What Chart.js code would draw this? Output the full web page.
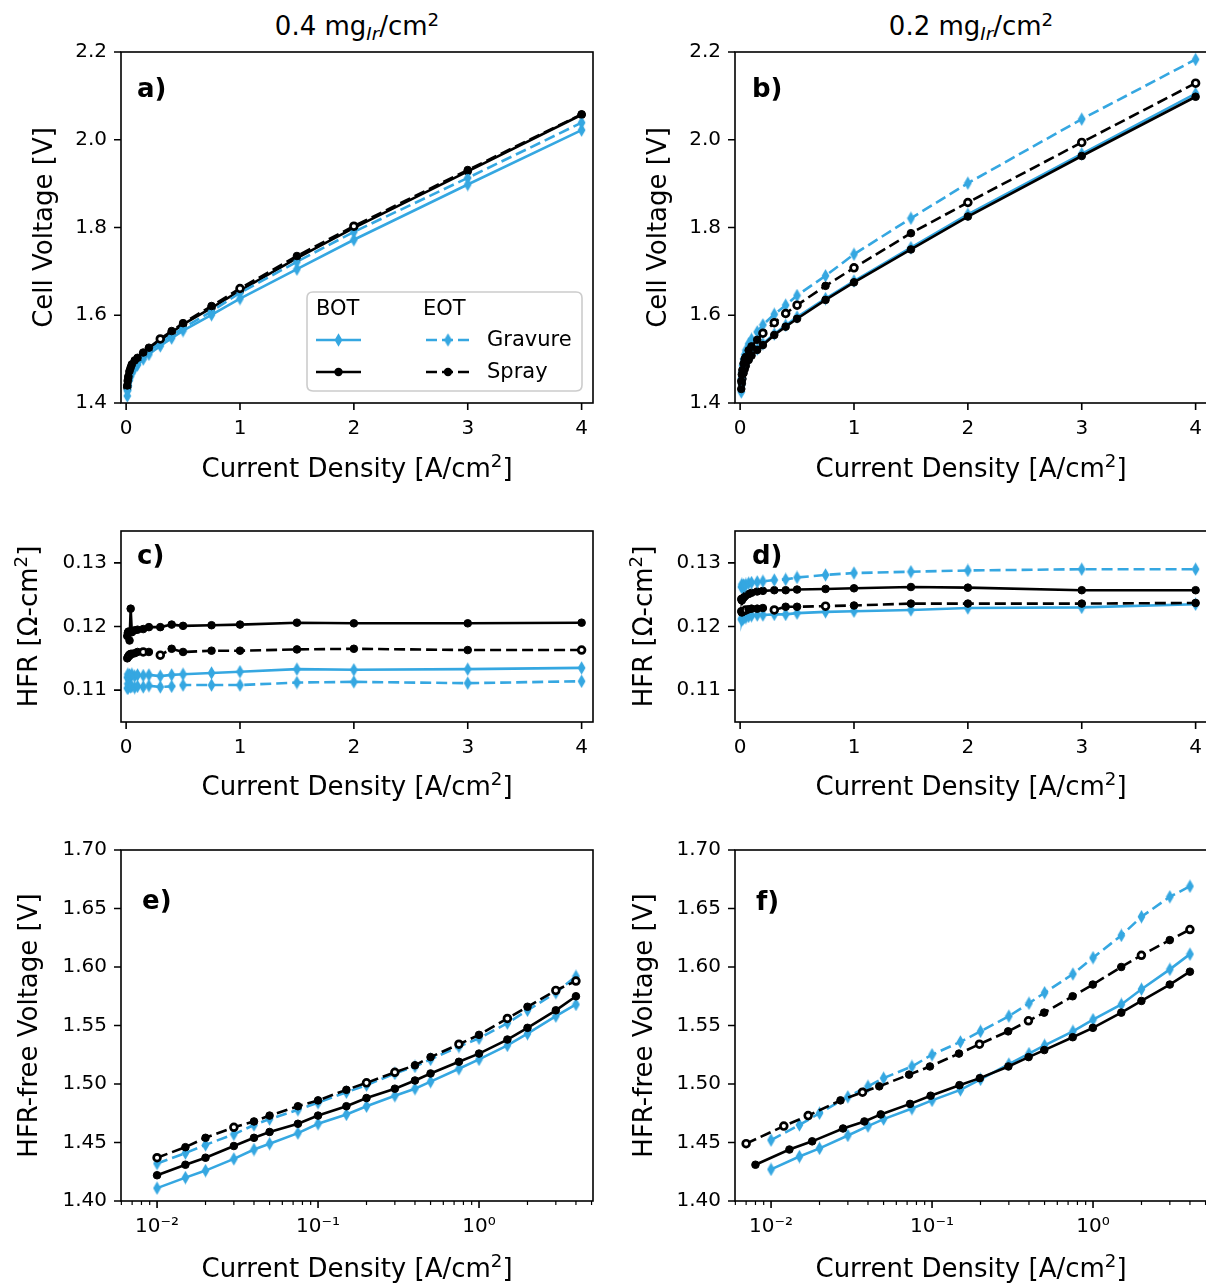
<!DOCTYPE html>
<html><head><meta charset="utf-8"><title>Polarization curves</title>
<script src="https://cdn.jsdelivr.net/npm/chart.js@4.4.1/dist/chart.umd.min.js"></script>
<style>
html,body{margin:0;padding:0;background:#fff;}
body{width:1206px;height:1283px;overflow:hidden;position:relative;font-family:"DejaVu Sans",sans-serif;}
canvas{position:absolute;}
.ttl{position:absolute;top:11px;text-align:center;font-size:26px;line-height:30px;color:#000;white-space:nowrap;}
.ttl .sb{font-size:0.7em;font-style:italic;position:relative;top:0.28em;}
.ttl .sp{font-size:0.7em;position:relative;top:-0.5em;}
</style></head>
<body>
<div class="ttl" style="left:121px;width:472px">0.4 mg<span class="sb">Ir</span>/cm<span class="sp">2</span></div>
<div class="ttl" style="left:735px;width:472px">0.2 mg<span class="sb">Ir</span>/cm<span class="sp">2</span></div>
<script>
const FONT = 'DejaVu Sans';
const BLUE = '#35a7e1';

// ---------- categories / ticks ----------
const seriesNames = ['Gravure', 'Spray'];
const phaseNames = ['BOT', 'EOT'];
const xTitle = 'Current Density [A/cm^2]';
const yTitleVoltage = 'Cell Voltage [V]';
const yTitleHfr = 'HFR [Ω-cm^2]';
const yTitleHfrFree = 'HFR-free Voltage [V]';
const panelLabels = ['a)', 'b)', 'c)', 'd)', 'e)', 'f)'];
const linearXTicks = [0, 1, 2, 3, 4];
const logXTicks = [0.01, 0.1, 1];
const voltageTicks = [1.4, 1.6, 1.8, 2.0, 2.2];
const hfrTicks = [0.11, 0.12, 0.13];
const hfrFreeTicks = [1.40, 1.45, 1.50, 1.55, 1.60, 1.65, 1.70];

// ---------- data ----------
const currentDensity = [0.01, 0.015, 0.02, 0.03, 0.04, 0.05, 0.075, 0.1, 0.15, 0.2, 0.3, 0.4, 0.5, 0.75, 1, 1.5, 2, 3, 4];
const currentDensitySprayBotF = [0.008, 0.013, 0.018, 0.028, 0.038, 0.048, 0.073, 0.098, 0.148, 0.198, 0.298, 0.398, 0.498, 0.748, 0.998, 1.498, 1.998, 2.998, 3.998];
const currentDensitySprayEotF = [0.007, 0.012, 0.017, 0.027, 0.037, 0.047, 0.072, 0.097, 0.147, 0.197, 0.297, 0.397, 0.497, 0.747, 0.997, 1.497, 1.997, 2.997, 3.997];

// a) cell voltage, 0.4 mg
const aGravureBot = [1.416, 1.430, 1.439, 1.452, 1.461, 1.468, 1.479, 1.487, 1.500, 1.511, 1.530, 1.548, 1.565, 1.601, 1.638, 1.705, 1.772, 1.898, 2.022];
const aSprayBot   = [1.436, 1.449, 1.458, 1.470, 1.478, 1.485, 1.494, 1.500, 1.512, 1.523, 1.543, 1.561, 1.579, 1.617, 1.656, 1.730, 1.799, 1.928, 2.057];
const aGravureEot = [1.428, 1.441, 1.450, 1.462, 1.470, 1.477, 1.487, 1.494, 1.507, 1.518, 1.537, 1.554, 1.571, 1.609, 1.651, 1.722, 1.790, 1.913, 2.039];
const aSprayEot   = [1.440, 1.452, 1.461, 1.473, 1.481, 1.488, 1.497, 1.503, 1.515, 1.526, 1.546, 1.564, 1.582, 1.621, 1.661, 1.735, 1.803, 1.931, 2.058];

// b) cell voltage, 0.2 mg
const bGravureBot = [1.425, 1.442, 1.455, 1.470, 1.480, 1.490, 1.500, 1.510, 1.523, 1.535, 1.557, 1.577, 1.596, 1.638, 1.678, 1.754, 1.830, 1.968, 2.105];
const bSprayBot   = [1.432, 1.445, 1.455, 1.468, 1.477, 1.485, 1.498, 1.508, 1.521, 1.532, 1.555, 1.574, 1.592, 1.635, 1.675, 1.750, 1.825, 1.963, 2.098];
const bGravureEot = [1.455, 1.470, 1.485, 1.500, 1.510, 1.520, 1.535, 1.545, 1.562, 1.578, 1.602, 1.623, 1.645, 1.690, 1.739, 1.821, 1.901, 2.047, 2.183];
const bSprayEot   = [1.450, 1.465, 1.475, 1.490, 1.500, 1.505, 1.520, 1.529, 1.544, 1.559, 1.583, 1.604, 1.623, 1.667, 1.708, 1.787, 1.857, 1.994, 2.129];

// c) HFR, 0.4 mg
const cGravureBot = [0.1120, 0.1125, 0.1118, 0.1124, 0.1121, 0.1125, 0.1122, 0.1124, 0.1123, 0.1124, 0.1122, 0.1124, 0.1125, 0.1127, 0.1129, 0.1133, 0.1132, 0.1133, 0.1135];
const cSprayBot   = [0.1185, 0.1190, 0.1192, 0.1178, 0.1228, 0.1191, 0.1194, 0.1195, 0.1196, 0.1199, 0.1199, 0.1203, 0.1201, 0.1202, 0.1203, 0.1206, 0.1205, 0.1205, 0.1206];
const cGravureEot = [0.1103, 0.1110, 0.1104, 0.1108, 0.1105, 0.1106, 0.1104, 0.1106, 0.1105, 0.1107, 0.1105, 0.1106, 0.1108, 0.1108, 0.1108, 0.1112, 0.1113, 0.1111, 0.1114];
const cSprayEot   = [0.1150, 0.1152, 0.1153, 0.1155, 0.1157, 0.1157, 0.1158, 0.1160, 0.1160, 0.1160, 0.1155, 0.1165, 0.1160, 0.1162, 0.1162, 0.1164, 0.1165, 0.1163, 0.1163];

// d) HFR, 0.2 mg
const dGravureBot = [0.1212, 0.1210, 0.1214, 0.1213, 0.1215, 0.1214, 0.1216, 0.1217, 0.1218, 0.1218, 0.1219, 0.1219, 0.1221, 0.1223, 0.1224, 0.1226, 0.1229, 0.1230, 0.1235];
const dSprayBot   = [0.1243, 0.1241, 0.1244, 0.1245, 0.1247, 0.1249, 0.1251, 0.1253, 0.1255, 0.1256, 0.1257, 0.1257, 0.1258, 0.1259, 0.1260, 0.1262, 0.1261, 0.1257, 0.1257];
const dGravureEot = [0.1262, 0.1266, 0.1262, 0.1265, 0.1263, 0.1266, 0.1268, 0.1269, 0.1270, 0.1271, 0.1273, 0.1274, 0.1277, 0.1281, 0.1284, 0.1286, 0.1288, 0.1290, 0.1290];
const dSprayEot   = [0.1224, 0.1222, 0.1223, 0.1224, 0.1225, 0.1226, 0.1227, 0.1228, 0.1228, 0.1229, 0.1226, 0.1231, 0.1231, 0.1232, 0.1233, 0.1236, 0.1236, 0.1236, 0.1237];

// e) HFR-free voltage, 0.4 mg
const eGravureBot = [1.411, 1.420, 1.426, 1.436, 1.444, 1.449, 1.458, 1.466, 1.474, 1.481, 1.490, 1.496, 1.502, 1.513, 1.521, 1.533, 1.543, 1.558, 1.568];
const eSprayBot   = [1.422, 1.431, 1.437, 1.447, 1.454, 1.459, 1.466, 1.473, 1.481, 1.488, 1.496, 1.503, 1.509, 1.519, 1.526, 1.538, 1.548, 1.563, 1.575];
const eGravureEot = [1.432, 1.441, 1.448, 1.457, 1.465, 1.470, 1.478, 1.484, 1.493, 1.499, 1.509, 1.515, 1.521, 1.532, 1.539, 1.552, 1.563, 1.578, 1.592];
const eSprayEot   = [1.437, 1.446, 1.454, 1.463, 1.468, 1.473, 1.481, 1.486, 1.495, 1.501, 1.510, 1.516, 1.523, 1.534, 1.542, 1.556, 1.566, 1.580, 1.588];

// f) HFR-free voltage, 0.2 mg
const fGravureBot = [1.427, 1.438, 1.445, 1.456, 1.464, 1.470, 1.479, 1.486, 1.495, 1.504, 1.517, 1.526, 1.533, 1.545, 1.555, 1.568, 1.581, 1.598, 1.611];
const fSprayBot   = [1.431, 1.444, 1.451, 1.462, 1.468, 1.474, 1.483, 1.490, 1.499, 1.505, 1.515, 1.523, 1.529, 1.540, 1.548, 1.561, 1.571, 1.585, 1.596];
const fGravureEot = [1.452, 1.465, 1.475, 1.489, 1.498, 1.505, 1.515, 1.525, 1.536, 1.545, 1.558, 1.569, 1.578, 1.594, 1.608, 1.627, 1.643, 1.660, 1.669];
const fSprayEot   = [1.449, 1.464, 1.473, 1.486, 1.493, 1.498, 1.508, 1.515, 1.526, 1.534, 1.545, 1.554, 1.561, 1.575, 1.585, 1.600, 1.610, 1.623, 1.632];

// hollow (open) spray-EOT marker indices per panel (style only)
const hollowA = [10, 14, 16];
const hollowB = [9, 10, 11, 12, 14, 16, 17, 18];
const hollowC = [3, 8, 10, 18];
const hollowD = [5, 10, 13];
const hollowE = [0, 3, 9, 10, 13, 15, 17, 18];
const hollowF = [0, 1, 2, 4, 9, 11, 16, 18];

// ---------- style helpers ----------
function makeDiamond(color) {
  const c = document.createElement('canvas');
  c.width = 9; c.height = 14;
  const g = c.getContext('2d');
  g.fillStyle = color;
  g.beginPath();
  g.moveTo(4.5, 0.3); g.lineTo(8.4, 7); g.lineTo(4.5, 13.7); g.lineTo(0.6, 7);
  g.closePath(); g.fill();
  return c;
}
const diamondImg = makeDiamond(BLUE);
const DASH = [11, 5];

function makeDataset(s) {
  const blue = s.kind === 'gravure';
  const dashed = s.phase === 'EOT';
  const hollow = s.hollow || [];
  const order = blue ? (dashed ? 2 : 4) : (dashed ? 1 : 3);
  return {
    data: s.xs.map((x, i) => ({ x: x, y: s.ys[i] })),
    showLine: true,
    borderColor: blue ? BLUE : '#000',
    borderWidth: 2.6,
    borderDash: dashed ? DASH : [],
    pointStyle: blue ? diamondImg : 'circle',
    pointRadius: blue ? 5 : s.ys.map((_, i) => hollow.includes(i) ? 3.4 : 3.8),
    pointBorderColor: blue ? BLUE : '#000',
    pointBorderWidth: blue ? 0 : s.ys.map((_, i) => hollow.includes(i) ? 2.7 : 1),
    pointBackgroundColor: blue ? BLUE : s.ys.map((_, i) => hollow.includes(i) ? '#fff' : '#000'),
    tension: 0,
    fill: false,
    order: order
  };
}

const supMap = { '-': '⁻', '0': '⁰', '1': '¹', '2': '²', '3': '³', '4': '⁴', '5': '⁵', '6': '⁶', '7': '⁷', '8': '⁸', '9': '⁹' };
function fmtLog(v) {
  const e = Math.round(Math.log10(v));
  return '10' + String(e).split('').map(c => supMap[c]).join('');
}

// rich text: "^x" becomes a raised smaller character (mathtext-like)
function parseRich(str) {
  const parts = [];
  const re = /\^(\w)/g;
  let last = 0, m;
  while ((m = re.exec(str)) !== null) {
    if (m.index > last) parts.push({ t: str.slice(last, m.index), sup: false });
    parts.push({ t: m[1], sup: true });
    last = m.index + m[0].length;
  }
  if (last < str.length) parts.push({ t: str.slice(last), sup: false });
  return parts;
}
function drawRich(ctx, str, size) {
  // draws centred at (0,0) horizontally, baseline at 0
  const parts = parseRich(str);
  const fN = size + 'px "' + FONT + '"';
  const fS = (size * 0.7) + 'px "' + FONT + '"';
  let total = 0;
  parts.forEach(p => { ctx.font = p.sup ? fS : fN; p.w = ctx.measureText(p.t).width; total += p.w; });
  let x = -total / 2;
  ctx.textAlign = 'left'; ctx.textBaseline = 'alphabetic';
  parts.forEach(p => {
    ctx.font = p.sup ? fS : fN;
    ctx.fillText(p.t, x, p.sup ? -size * 0.37 : 0);
    x += p.w;
  });
}

function drawSample(ctx, x0, x1, y, kind, dashed) {
  ctx.save();
  ctx.strokeStyle = kind === 'gravure' ? BLUE : '#000';
  ctx.lineWidth = 2.6;
  ctx.setLineDash(dashed ? DASH : []);
  ctx.beginPath(); ctx.moveTo(x0, y); ctx.lineTo(x1, y); ctx.stroke();
  ctx.setLineDash([]);
  const xm = (x0 + x1) / 2;
  if (kind === 'gravure') {
    ctx.drawImage(diamondImg, xm - diamondImg.width / 2, y - diamondImg.height / 2);
  } else {
    ctx.fillStyle = '#000';
    ctx.beginPath(); ctx.arc(xm, y, 4.2, 0, Math.PI * 2); ctx.fill();
  }
  ctx.restore();
}

function drawLegend(ctx) {
  ctx.save();
  const x = 307, y = 292, w = 275, h = 99, r = 6;
  ctx.beginPath();
  ctx.moveTo(x + r, y); ctx.lineTo(x + w - r, y); ctx.quadraticCurveTo(x + w, y, x + w, y + r);
  ctx.lineTo(x + w, y + h - r); ctx.quadraticCurveTo(x + w, y + h, x + w - r, y + h);
  ctx.lineTo(x + r, y + h); ctx.quadraticCurveTo(x, y + h, x, y + h - r);
  ctx.lineTo(x, y + r); ctx.quadraticCurveTo(x, y, x + r, y); ctx.closePath();
  ctx.fillStyle = 'rgba(255,255,255,0.8)'; ctx.fill();
  ctx.strokeStyle = '#cccccc'; ctx.lineWidth = 1.6; ctx.stroke();
  ctx.fillStyle = '#000';
  ctx.font = '21px "' + FONT + '"';
  ctx.textBaseline = 'middle'; ctx.textAlign = 'left';
  ctx.fillText(phaseNames[0], 316, 310);
  ctx.fillText(phaseNames[1], 423, 310);
  ctx.fillText(seriesNames[0], 487, 341);
  ctx.fillText(seriesNames[1], 487, 373);
  drawSample(ctx, 316, 361, 340, 'gravure', false);
  drawSample(ctx, 426, 470, 340, 'gravure', true);
  drawSample(ctx, 316, 361, 372, 'spray', false);
  drawSample(ctx, 426, 470, 372, 'spray', true);
  ctx.restore();
}

function framePlugin(p) {
  return {
    id: 'mplFrame',
    afterDraw(chart) {
      const ctx = chart.ctx, a = chart.chartArea, sx = chart.scales.x, sy = chart.scales.y;
      ctx.save();
      ctx.strokeStyle = '#000';
      ctx.lineWidth = 1.6;
      ctx.strokeRect(a.left, a.top, a.right - a.left, a.bottom - a.top);
      ctx.beginPath();
      p.yTicks.forEach(v => { const y = sy.getPixelForValue(v); ctx.moveTo(a.left - 7, y); ctx.lineTo(a.left, y); });
      const xt = p.log ? logXTicks : linearXTicks;
      xt.forEach(v => { const x = sx.getPixelForValue(v); ctx.moveTo(x, a.bottom); ctx.lineTo(x, a.bottom + 7); });
      ctx.stroke();
      if (p.log) {
        ctx.lineWidth = 1.2;
        ctx.beginPath();
        for (let k = -3; k <= 1; k++) {
          for (let m = 2; m <= 9; m++) {
            const v = m * Math.pow(10, k);
            if (v < sx.min || v > sx.max) continue;
            const x = sx.getPixelForValue(v);
            ctx.moveTo(x, a.bottom); ctx.lineTo(x, a.bottom + 4);
          }
        }
        ctx.stroke();
      }
      ctx.fillStyle = '#000';
      // axis titles
      ctx.save();
      ctx.translate((a.left + a.right) / 2, p.xTitleY - p.canvas.y + 9);
      drawRich(ctx, xTitle, 26);
      ctx.restore();
      ctx.save();
      ctx.translate(p.yTitleX + 9, (a.top + a.bottom) / 2);
      ctx.rotate(-Math.PI / 2);
      drawRich(ctx, p.yTitle, 26);
      ctx.restore();
      // panel label
      ctx.font = 'bold 26px "' + FONT + '"';
      ctx.textBaseline = 'alphabetic'; ctx.textAlign = 'left';
      ctx.fillText(p.label, a.left + p.labelDx, a.top + p.labelDy);
      if (p.legend) drawLegend(ctx);
      ctx.restore();
    }
  };
}

const LIN_MIN = -0.045, LIN_MAX = 4.1;
const LOG_MIN = Math.pow(10, -2.224), LOG_MAX = Math.pow(10, 0.708);

const panels = [
  { label: panelLabels[0], canvas: { x: 0, y: 0, w: 614, h: 495 }, frame: { l: 121, t: 52, r: 593, b: 403 }, log: false,
    yMin: 1.4, yMax: 2.2, yTicks: voltageTicks, yDec: 1, yTitle: yTitleVoltage, yTitleX: 43, xTitleY: 468, labelDx: 16, labelDy: 45, legend: true,
    series: [
      { xs: currentDensity, ys: aGravureBot, kind: 'gravure', phase: 'BOT' },
      { xs: currentDensity, ys: aSprayBot, kind: 'spray', phase: 'BOT' },
      { xs: currentDensity, ys: aGravureEot, kind: 'gravure', phase: 'EOT' },
      { xs: currentDensity, ys: aSprayEot, kind: 'spray', phase: 'EOT', hollow: hollowA } ] },
  { label: panelLabels[1], canvas: { x: 614, y: 0, w: 620, h: 495 }, frame: { l: 735, t: 52, r: 1207, b: 403 }, log: false,
    yMin: 1.4, yMax: 2.2, yTicks: voltageTicks, yDec: 1, yTitle: yTitleVoltage, yTitleX: 43, xTitleY: 468, labelDx: 17, labelDy: 45,
    series: [
      { xs: currentDensity, ys: bGravureBot, kind: 'gravure', phase: 'BOT' },
      { xs: currentDensity, ys: bSprayBot, kind: 'spray', phase: 'BOT' },
      { xs: currentDensity, ys: bGravureEot, kind: 'gravure', phase: 'EOT' },
      { xs: currentDensity, ys: bSprayEot, kind: 'spray', phase: 'EOT', hollow: hollowB } ] },
  { label: panelLabels[2], canvas: { x: 0, y: 495, w: 614, h: 320 }, frame: { l: 121, t: 531, r: 593, b: 722 }, log: false,
    yMin: 0.105, yMax: 0.135, yTicks: hfrTicks, yDec: 2, yTitle: yTitleHfr, yTitleX: 28, xTitleY: 786, labelDx: 16, labelDy: 33,
    series: [
      { xs: currentDensity, ys: cGravureBot, kind: 'gravure', phase: 'BOT' },
      { xs: currentDensity, ys: cSprayBot, kind: 'spray', phase: 'BOT' },
      { xs: currentDensity, ys: cGravureEot, kind: 'gravure', phase: 'EOT' },
      { xs: currentDensity, ys: cSprayEot, kind: 'spray', phase: 'EOT', hollow: hollowC } ] },
  { label: panelLabels[3], canvas: { x: 614, y: 495, w: 620, h: 320 }, frame: { l: 735, t: 531, r: 1207, b: 722 }, log: false,
    yMin: 0.105, yMax: 0.135, yTicks: hfrTicks, yDec: 2, yTitle: yTitleHfr, yTitleX: 29, xTitleY: 786, labelDx: 17, labelDy: 33,
    series: [
      { xs: currentDensity, ys: dGravureBot, kind: 'gravure', phase: 'BOT' },
      { xs: currentDensity, ys: dSprayBot, kind: 'spray', phase: 'BOT' },
      { xs: currentDensity, ys: dGravureEot, kind: 'gravure', phase: 'EOT' },
      { xs: currentDensity, ys: dSprayEot, kind: 'spray', phase: 'EOT', hollow: hollowD } ] },
  { label: panelLabels[4], canvas: { x: 0, y: 815, w: 614, h: 468 }, frame: { l: 121, t: 850, r: 593, b: 1201 }, log: true,
    yMin: 1.40, yMax: 1.70, yTicks: hfrFreeTicks, yDec: 2, yTitle: yTitleHfrFree, yTitleX: 28, xTitleY: 1268, labelDx: 21, labelDy: 59,
    series: [
      { xs: currentDensity, ys: eGravureBot, kind: 'gravure', phase: 'BOT' },
      { xs: currentDensity, ys: eSprayBot, kind: 'spray', phase: 'BOT' },
      { xs: currentDensity, ys: eGravureEot, kind: 'gravure', phase: 'EOT' },
      { xs: currentDensity, ys: eSprayEot, kind: 'spray', phase: 'EOT', hollow: hollowE } ] },
  { label: panelLabels[5], canvas: { x: 614, y: 815, w: 620, h: 468 }, frame: { l: 735, t: 850, r: 1207, b: 1201 }, log: true,
    yMin: 1.40, yMax: 1.70, yTicks: hfrFreeTicks, yDec: 2, yTitle: yTitleHfrFree, yTitleX: 29, xTitleY: 1268, labelDx: 21, labelDy: 60,
    series: [
      { xs: currentDensity, ys: fGravureBot, kind: 'gravure', phase: 'BOT' },
      { xs: currentDensitySprayBotF, ys: fSprayBot, kind: 'spray', phase: 'BOT' },
      { xs: currentDensity, ys: fGravureEot, kind: 'gravure', phase: 'EOT' },
      { xs: currentDensitySprayEotF, ys: fSprayEot, kind: 'spray', phase: 'EOT', hollow: hollowF } ] }
];

function buildPanel(p) {
  const cv = document.createElement('canvas');
  cv.width = p.canvas.w; cv.height = p.canvas.h;
  cv.style.left = p.canvas.x + 'px'; cv.style.top = p.canvas.y + 'px';
  cv.style.width = p.canvas.w + 'px'; cv.style.height = p.canvas.h + 'px';
  document.body.appendChild(cv);
  const yW = p.frame.l - p.canvas.x;
  const xH = p.canvas.y + p.canvas.h - p.frame.b;
  const padTop = p.frame.t - p.canvas.y;
  const padRight = p.canvas.x + p.canvas.w - p.frame.r;
  const xTicks = p.log ? logXTicks : linearXTicks;
  new Chart(cv, {
    type: 'scatter',
    data: { datasets: p.series.map(makeDataset) },
    options: {
      responsive: false, animation: false, events: [], devicePixelRatio: 1,
      layout: { padding: { left: 0, top: padTop, right: padRight, bottom: 0 } },
      plugins: { legend: { display: false }, tooltip: { enabled: false } },
      scales: {
        x: {
          type: p.log ? 'logarithmic' : 'linear', position: 'bottom',
          min: p.log ? LOG_MIN : LIN_MIN, max: p.log ? LOG_MAX : LIN_MAX,
          afterBuildTicks: s => { s.ticks = xTicks.map(v => ({ value: v })); },
          afterFit: s => { s.height = xH; },
          grid: { display: false, drawTicks: false, tickLength: 0 },
          border: { display: false },
          ticks: { autoSkip: false, maxRotation: 0, minRotation: 0, padding: 14, color: '#000',
                   font: { family: FONT, size: 20 },
                   callback: v => p.log ? fmtLog(v) : String(v) },
          title: { display: false }
        },
        y: {
          type: 'linear', position: 'left', min: p.yMin, max: p.yMax,
          afterBuildTicks: s => { s.ticks = p.yTicks.map(v => ({ value: v })); },
          afterFit: s => { s.width = yW; },
          grid: { display: false, drawTicks: false, tickLength: 0 },
          border: { display: false },
          ticks: { autoSkip: false, padding: 14, color: '#000', font: { family: FONT, size: 20 },
                   callback: v => Number(v).toFixed(p.yDec) },
          title: { display: false }
        }
      }
    },
    plugins: [framePlugin(p)]
  });
}
panels.forEach(buildPanel);
</script>
</body></html>
